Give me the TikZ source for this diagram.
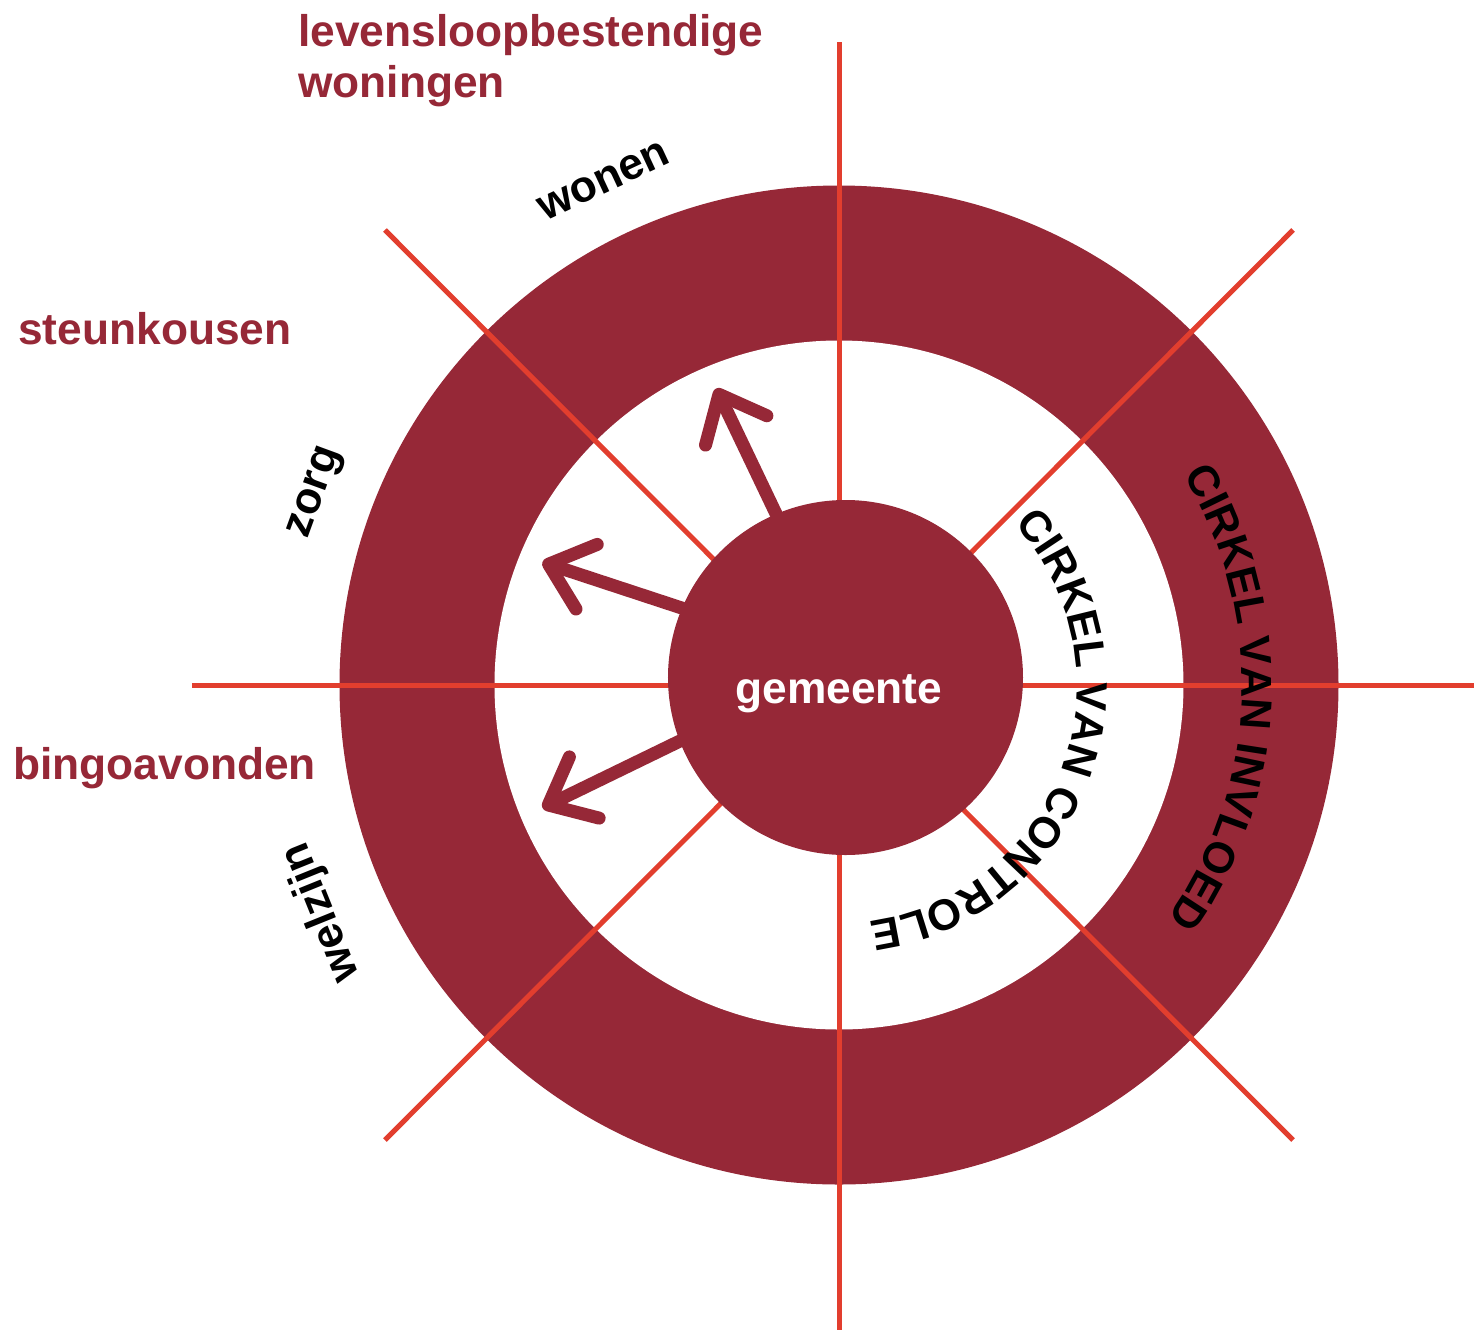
\documentclass[tikz,border=0pt]{standalone}
\usepackage{fontspec}
\setmainfont{Liberation Sans}
\usetikzlibrary{arrows.meta,decorations.text}
\definecolor{ringred}{RGB}{150,40,55}
\definecolor{linered}{RGB}{226,62,46}
\newcommand\myLab{\fontsize{25.2}{28.9}\selectfont\bfseries}
\newcommand\myArc{\fontsize{24.7}{28}\selectfont\bfseries}
\begin{document}
\begin{tikzpicture}[
  sector/.style={draw=linered, line width=0.1cm},
  arr/.style={draw=ringred, line width=0.26cm, line cap=round,
    -{Straight Barb[length=0.8cm, width=1.36cm, line cap=round, line join=round]}},
  lbl/.style={inner sep=0pt, font=\myLab, text=black},
  redlbl/.style={inner sep=0pt, font=\myLab, text=ringred, align=left},
  arctext/.style={decorate, decoration={text along path, text align=center, text={|\myArc|#1}}}
]
\useasboundingbox (-16.78,-12.90) rectangle (12.70,13.70);
% rings
\fill[ringred] (0,0) circle[radius=9.99cm];
\fill[white] (0,0) circle[radius=6.89cm];
% sector lines
\coordinate (vt) at (0,12.86);
\coordinate (vb) at (0,-12.90);
\coordinate (hl) at (-12.94,0);
\coordinate (hr) at (12.70,0);
\coordinate (nw) at (-9.08,9.10);
\coordinate (se) at (9.08,-9.10);
\coordinate (ne) at (9.08,9.10);
\coordinate (sw) at (-9.08,-9.10);
\draw[sector] (vt) -- (vb);
\draw[sector] (hl) -- (hr);
\draw[sector] (nw) -- (se);
\draw[sector] (ne) -- (sw);
% centre
\node[circle, fill=ringred, minimum size=7.1cm, inner sep=0pt] (gem) at (0.13,0.15) {};
\node[anchor=base, inner sep=0pt, font=\myLab, text=white] (gemtxt) at (0,-0.36) {gemeente};
% arrows
\coordinate (t1) at (112.5:6.42);
\coordinate (t2) at (157.5:6.42);
\coordinate (t3) at (202.5:6.42);
\draw[arr] (gem.113) -- (t1);
\draw[arr] (gem.157) -- (t2);
\draw[arr] (gem.201) -- (t3);
% curved texts
\path[arctext={CIRKEL VAN CONTROLE}] (60:4.76) arc[start angle=60, end angle=-100, radius=4.76cm];
\path[arctext={CIRKEL VAN INVLOED}] (60:8.06) arc[start angle=60, end angle=-64, radius=8.06cm];
% sector labels
\node[lbl, rotate=25] (wonen) at (-4.70,10.08) {wonen};
\node[lbl, rotate=70] (zorg) at (-10.44,3.84) {zorg};
\node[lbl, rotate=112] (welzijn) at (-10.34,-4.54) {welzijn};
% red labels
\node[redlbl, anchor=north west] (lev) at (-10.82,13.42) {levensloopbestendige\\woningen};
\node[redlbl, anchor=base west] (steun) at (-16.42,6.82) {steunkousen};
\node[redlbl, anchor=base west] (bingo) at (-16.52,-1.88) {bingoavonden};
\end{tikzpicture}
\end{document}
